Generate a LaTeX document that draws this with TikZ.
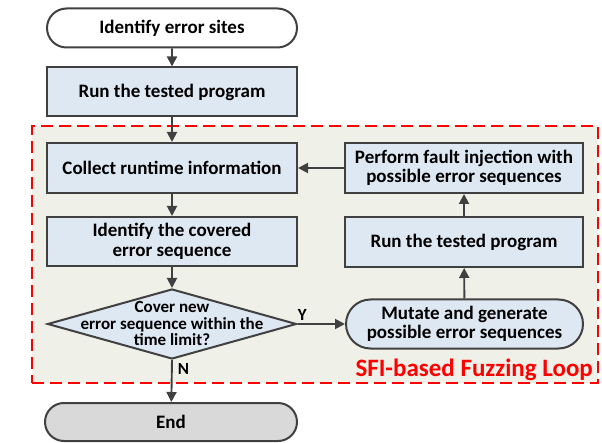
\documentclass[tikz,border=0pt]{standalone}
\usepackage{fontspec}
\setmainfont{Carlito}
\usetikzlibrary{shapes.geometric,shapes.misc,arrows.meta}
\definecolor{boxfill}{HTML}{DEE8F3}
\definecolor{loopfill}{HTML}{EFF1E8}
\definecolor{edge}{HTML}{404040}
\definecolor{endfill}{HTML}{D9D9D9}
\begin{document}
\begin{tikzpicture}[x=1pt,y=-1pt,
  base/.style={draw=edge,line width=2pt,font=\fontsize{19}{19.5}\selectfont\bfseries,align=center,inner sep=0pt},
  procbox/.style={base,rectangle,fill=boxfill},
  termbox/.style={base,rounded rectangle,rounded rectangle arc length=180},
  decbox/.style={base,diamond,fill=boxfill},
  conn/.style={draw=edge,line width=1.9pt,-{Triangle[length=10pt,width=10pt]}},
  lbl/.style={font=\fontsize{17}{17}\selectfont\bfseries,inner sep=0pt}
]
\useasboundingbox (0,0) rectangle (602,443);
\node[draw=red,fill=loopfill,line width=2.4pt,dash pattern=on 12pt off 6pt,
      minimum width=566pt,minimum height=257pt,inner sep=0pt] (loop) at (315,254.5) {};
\node[termbox,fill=white,minimum width=250pt,minimum height=39pt] (start) at (172,28) {Identify error sites};
\node[procbox,minimum width=250pt,minimum height=49pt] (run1) at (172,92) {Run the tested program};
\node[procbox,minimum width=250pt,minimum height=50pt] (collect) at (172,168) {Collect runtime information};
\node[procbox,minimum width=250pt,minimum height=49pt] (ident) at (172,241.5) {Identify the covered\\error sequence};
\node[decbox,minimum width=249pt,minimum height=70pt,aspect=3.56] (dec) at (172,324) {};
\node[font=\fontsize{17}{16.5}\selectfont\bfseries,align=center,inner sep=0pt] (dectext) at (172,323.5) {Cover new\\error sequence within the\\time limit?};
\node[termbox,fill=endfill,minimum width=252pt,minimum height=38pt] (end) at (171,422) {End};
\node[procbox,minimum width=238pt,minimum height=50pt] (perform) at (464,168) {Perform fault injection with\\possible error sequences};
\node[procbox,minimum width=238pt,minimum height=50pt] (run2) at (464,242) {Run the tested program};
\node[termbox,fill=boxfill,minimum width=237pt,minimum height=49pt] (mutate) at (464.5,324) {Mutate and generate\\possible error sequences};
\node[text=red,font=\fontsize{25}{28}\selectfont\bfseries,anchor=base east,inner sep=0pt] (looplabel) at (593,376) {SFI-based Fuzzing Loop};
\draw[conn] (start) -- (run1);
\draw[conn] (run1) -- (collect);
\draw[conn] (collect) -- (ident);
\draw[conn] (ident) -- (dec.north);
\draw[conn] (dec.south) -- node[lbl,anchor=west,xshift=5pt,pos=0.22] (nlab) {N} (end);
\draw[conn] (dec.east) -- node[lbl,anchor=south,yshift=3pt,pos=0.1] (ylab) {Y} (mutate);
\draw[conn] (mutate) -- (run2);
\draw[conn] (run2) -- (perform);
\draw[conn] (perform) -- (collect);
\end{tikzpicture}
\end{document}
